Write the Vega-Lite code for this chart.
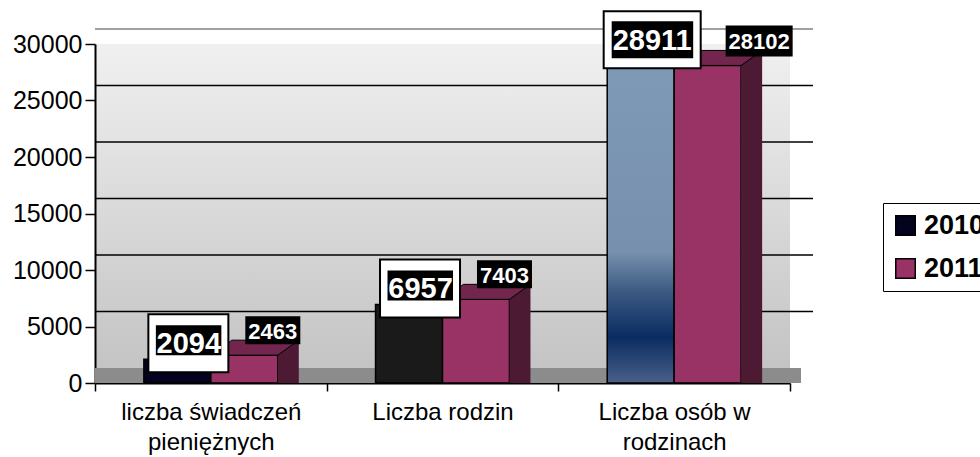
{
  "$schema": "https://vega.github.io/schema/vega-lite/v6.json",
  "width": 695,
  "height": 339,
  "autosize": "none",
  "padding": {"left": 95, "top": 44, "right": 190, "bottom": 74},
  "background": "white",
  "config": {
    "font": "Liberation Sans",
    "view": {
      "stroke": null,
      "fill": {"gradient": "linear", "x1": 0, "y1": 0, "x2": 0, "y2": 1, "stops": [{"offset": 0, "color": "#f0f0f0"}, {"offset": 1, "color": "#c2c2c2"}]}
    }
  },
  "datasets": {
    "dane": [
      {"kat": "liczba świadczeń pieniężnych", "rok": "2010", "wartosc": 2094},
      {"kat": "liczba świadczeń pieniężnych", "rok": "2011", "wartosc": 2463},
      {"kat": "Liczba rodzin", "rok": "2010", "wartosc": 6957},
      {"kat": "Liczba rodzin", "rok": "2011", "wartosc": 7403},
      {"kat": "Liczba osób w rodzinach", "rok": "2010", "wartosc": 28911},
      {"kat": "Liczba osób w rodzinach", "rok": "2011", "wartosc": 28102}
    ],
    "siatka": [{"v": 0}, {"v": 5000}, {"v": 10000}, {"v": 15000}, {"v": 20000}, {"v": 25000}, {"v": 30000}]
  },
  "data": {"name": "dane"},
  "layer": [
    {
      "data": {"name": "siatka"},
      "transform": [{"filter": "datum.v == 0"}],
      "mark": {"type": "rule", "color": "#8c8c8c", "strokeWidth": 15, "yOffset": -7.5, "xOffset": 11, "x2Offset": 10},
      "encoding": {
        "y": {"field": "v", "type": "quantitative"}
      }
    },
    {
      "data": {"name": "siatka"},
      "transform": [{"filter": "datum.v > 0"}],
      "mark": {"type": "rule", "strokeWidth": 1.5, "yOffset": -15, "xOffset": 23, "x2Offset": 19},
      "encoding": {
        "y": {"field": "v", "type": "quantitative"},
        "color": {"condition": {"test": "datum.v == 30000", "value": "#808080"}, "value": "#000000"}
      }
    },
    {
      "mark": {"type": "bar", "stroke": "#000000", "strokeWidth": 1.5},
      "encoding": {
        "x": {
          "field": "kat", "type": "nominal", "sort": null,
          "scale": {"paddingInner": 0, "paddingOuter": 0},
          "axis": {
            "title": null, "labelAngle": 0, "labelFontSize": 24, "labelColor": "#000000", "labelLimit": 400,
            "labelLineHeight": 30, "labelPadding": 9, "tickBand": "extent", "tickSize": 8,
            "tickColor": "#000000", "tickWidth": 1.5, "domainColor": "#000000", "domainWidth": 2,
            "labelExpr": "datum.label == 'liczba świadczeń pieniężnych' ? ['liczba świadczeń', 'pieniężnych'] : datum.label == 'Liczba osób w rodzinach' ? ['Liczba osób w', 'rodzinach'] : datum.label"
          }
        },
        "xOffset": {"field": "rok", "type": "nominal", "scale": {"paddingOuter": 0.73, "paddingInner": 0}},
        "y": {
          "field": "wartosc", "type": "quantitative",
          "scale": {"domain": [0, 30000], "nice": false},
          "axis": {
            "title": null, "values": [0, 5000, 10000, 15000, 20000, 25000, 30000], "format": "d",
            "grid": false, "labelFontSize": 25, "labelColor": "#000000", "labelPadding": 3,
            "tickSize": 10, "tickColor": "#000000", "tickWidth": 1.5, "domainColor": "#000000", "domainWidth": 2
          }
        },
        "fill": {
          "field": "rok", "type": "nominal",
          "scale": {"domain": ["2010", "2011"], "range": ["#03031f", "#993366"]},
          "legend": {
            "title": null, "orient": "none", "legendX": 788, "legendY": 159,
            "strokeColor": "#000000", "fillColor": "#ffffff", "padding": 9,
            "symbolType": "square", "symbolSize": 380, "symbolStrokeColor": "#000000", "symbolStrokeWidth": 1.5,
            "labelFontSize": 27, "labelFontWeight": "bold", "labelColor": "#000000", "labelOffset": 5,
            "rowPadding": 15, "labelLimit": 200
          },
          "condition": [
            {"test": "datum.kat == 'Liczba rodzin' && datum.rok == '2010'", "value": "#1a1a1a"},
            {"test": "datum.kat == 'Liczba osób w rodzinach' && datum.rok == '2010'", "value": {"gradient": "linear", "x1": 0, "y1": 0, "x2": 0, "y2": 1, "stops": [{"offset": 0, "color": "#7f9ab6"}, {"offset": 0.6, "color": "#7690ad"}, {"offset": 0.72, "color": "#3c5a82"}, {"offset": 0.86, "color": "#0a2c62"}, {"offset": 1, "color": "#4a6088"}]}}
          ]
        }
      }
    },
    {
      "transform": [{"filter": "datum.rok == '2011'"}],
      "mark": {"type": "rule", "color": "#4d1a33", "strokeWidth": 21, "yOffset": -15, "strokeCap": "butt"},
      "encoding": {
        "x": {"field": "kat", "type": "nominal", "sort": null, "bandPosition": 0.8344},
        "y": {"field": "wartosc", "type": "quantitative"},
        "y2": {"datum": 0}
      }
    },
    {
      "transform": [{"filter": "datum.rok == '2011'"}],
      "mark": {"type": "point", "filled": true, "size": 4, "opacity": 1, "fill": "#73264d", "stroke": "#000000", "strokeWidth": 1, "shape": "M-33.5,0L-12.5,-15L54.5,-15L33.5,0Z"},
      "encoding": {
        "x": {"field": "kat", "type": "nominal", "sort": null},
        "xOffset": {"field": "rok", "type": "nominal"},
        "y": {"field": "wartosc", "type": "quantitative"}
      }
    },
    {
      "transform": [{"filter": "datum.rok == '2010'"}],
      "mark": {"type": "point", "filled": true, "size": 4, "opacity": 1, "fill": "#ffffff", "stroke": "#000000", "strokeWidth": 2},
      "encoding": {
        "x": {"field": "kat", "type": "nominal", "sort": null},
        "xOffset": {"field": "rok", "type": "nominal"},
        "y": {"field": "wartosc", "type": "quantitative"},
        "shape": {"condition": {"test": "datum.wartosc >= 10000", "value": "M-37,-45H60V12H-37Z"}, "value": "M-29,-45H51V13H-29Z"}
      }
    },
    {
      "transform": [{"filter": "datum.rok == '2010'"}],
      "mark": {"type": "point", "filled": true, "size": 4, "opacity": 1, "fill": "#000000", "strokeWidth": 0},
      "encoding": {
        "x": {"field": "kat", "type": "nominal", "sort": null},
        "xOffset": {"field": "rok", "type": "nominal"},
        "y": {"field": "wartosc", "type": "quantitative"},
        "shape": {"condition": {"test": "datum.wartosc >= 10000", "value": "M-29,-35H52.5V2H-29Z"}, "value": "M-21.5,-34H44V-4H-21.5Z"}
      }
    },
    {
      "transform": [{"filter": "datum.rok == '2010'"}],
      "mark": {"type": "text", "color": "#ffffff", "fontSize": 29, "fontWeight": "bold", "align": "center", "baseline": "alphabetic", "dx": 11.5, "dy": -6},
      "encoding": {
        "x": {"field": "kat", "type": "nominal", "sort": null},
        "xOffset": {"field": "rok", "type": "nominal"},
        "y": {"field": "wartosc", "type": "quantitative"},
        "text": {"field": "wartosc", "type": "quantitative", "format": "d"}
      }
    },
    {
      "transform": [{"filter": "datum.rok == '2011'"}],
      "mark": {"type": "point", "filled": true, "size": 4, "opacity": 1, "fill": "#000000", "strokeWidth": 0},
      "encoding": {
        "x": {"field": "kat", "type": "nominal", "sort": null},
        "xOffset": {"field": "rok", "type": "nominal"},
        "y": {"field": "wartosc", "type": "quantitative"},
        "shape": {"condition": {"test": "datum.wartosc >= 10000", "value": "M18,-40H85V-9H18Z"}, "value": "M1,-39H56V-11H1Z"}
      }
    },
    {
      "transform": [{"filter": "datum.rok == '2011' && datum.wartosc < 10000"}],
      "mark": {"type": "text", "color": "#ffffff", "fontSize": 22, "fontWeight": "bold", "align": "center", "baseline": "alphabetic", "dx": 28.5, "dy": -16},
      "encoding": {
        "x": {"field": "kat", "type": "nominal", "sort": null},
        "xOffset": {"field": "rok", "type": "nominal"},
        "y": {"field": "wartosc", "type": "quantitative"},
        "text": {"field": "wartosc", "type": "quantitative", "format": "d"}
      }
    },
    {
      "transform": [{"filter": "datum.rok == '2011' && datum.wartosc >= 10000"}],
      "mark": {"type": "text", "color": "#ffffff", "fontSize": 22, "fontWeight": "bold", "align": "center", "baseline": "alphabetic", "dx": 51.5, "dy": -16},
      "encoding": {
        "x": {"field": "kat", "type": "nominal", "sort": null},
        "xOffset": {"field": "rok", "type": "nominal"},
        "y": {"field": "wartosc", "type": "quantitative"},
        "text": {"field": "wartosc", "type": "quantitative", "format": "d"}
      }
    }
  ]
}
